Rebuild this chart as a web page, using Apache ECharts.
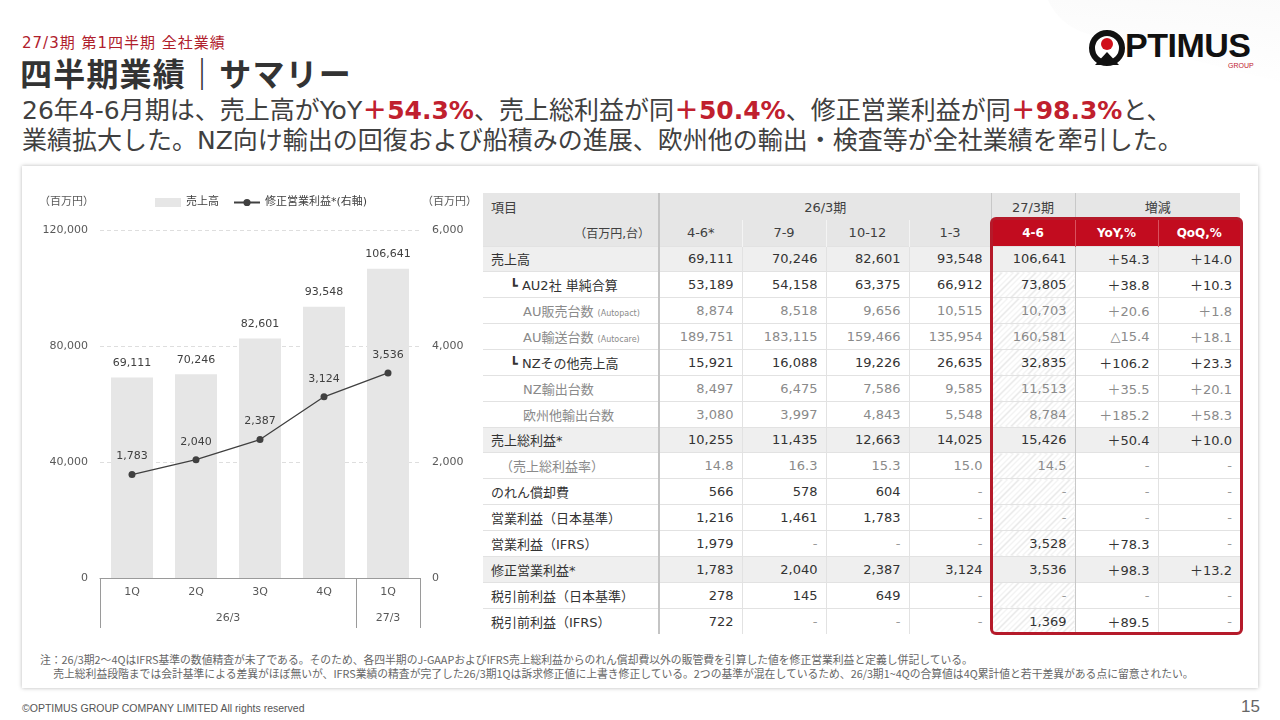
<!DOCTYPE html>
<html>
<head>
<meta charset="utf-8">
<script src="https://cdn.jsdelivr.net/npm/echarts@6.0.0/dist/echarts.min.js"></script>
<style>
body { margin:0; }
#page { position:relative; width:1280px; height:720px; overflow:hidden; background:#fff;
  font-family:"DejaVu Sans","Noto Sans CJK JP",sans-serif; color:#404040; }
.abs { position:absolute; }
#deco { left:1040px; top:-60px; width:320px; height:120px; background:linear-gradient(170deg,#f6f6f6,#fbfbfb 55%,rgba(255,255,255,0));
  transform:rotate(14deg); border-radius:0 0 0 60px; }
#kicker { left:22px; top:31px; font-size:15px; letter-spacing:1px; color:#b0202c; }
#title { left:20px; top:49px; font-size:32px; font-weight:bold; color:#333; font-family:"Noto Sans CJK JP"; letter-spacing:1.2px; }
#lead { left:22px; top:96px; font-size:25px; line-height:30px; color:#404040; white-space:nowrap; }
#lead b { color:#c0202e; }
#logo { left:1089px; top:29px; width:172px; height:44px; }
#logo .ring { position:absolute; left:0; top:1px; width:24px; height:24px; border:6px solid #111; border-radius:50%; }
#logo .dot { position:absolute; left:12px; top:9px; width:12px; height:12px; background:#d0101c; border-radius:50%; }
#logo .roof { position:absolute; left:6px; top:23px; width:0; height:0; border-left:12px solid transparent; border-right:12px solid transparent; border-bottom:13px solid #111; }
#logo .word { position:absolute; left:36px; top:-3px; font-family:"Liberation Sans",Arial,sans-serif; font-weight:bold; font-size:34px; color:#111; letter-spacing:-0.5px; }
#logo .grp { position:absolute; left:139px; top:33px; font-family:"Liberation Sans Narrow","Liberation Sans"; font-size:7px; color:#c0202e; }
#card { left:22px; top:166px; width:1236px; height:522px; background:#fff; box-shadow:0 0 4px rgba(0,0,0,0.28); }
#main { left:0; top:0; width:480px; height:650px; }
#tbl { left:483px; top:193px; border-collapse:collapse; table-layout:fixed; font-size:13px; }
#tbl td { padding:0 8px; white-space:nowrap; overflow:hidden; box-sizing:border-box; }
#tbl tr.h td { height:26.5px; background:#e6e6e6; text-align:center; color:#404040; }
#tbl tr.d td { height:25.87px; text-align:right; border-top:1px solid #e2e2e2; color:#333; }
#tbl tr.d td.lab { text-align:left; }
#tbl tr.d.shade td { background:#efefef; }
#tbl td.vsep { border-left:2px solid #c4c4c4; }
#tbl td.lsep { border-left:1px solid #e2e2e2; }
#tbl td.msep { border-left:1px solid #c8c8c8; }
#tbl tr.h2 td.lsep { border-left:1px solid #f4f4f4; }
#tbl tr.h2 td.red { background:#c20c1f; color:#fff; font-weight:bold; font-size:12px; }
#tbl tr.h2 td.red.lsep, #tbl tr.h2 td.red.msep { border-left:1px solid #d9515e; }
#tbl tr.d:first-of-type td { border-top:1px solid #c4c4c4; }
#tbl tr.d td.hatch { background:repeating-linear-gradient(135deg,#fff 0 3px,#e6e6e6 3px 4px); }
#tbl tr.d.shade td.hatch { background:#efefef; }
#tbl .dim { color:#8a8a8a !important; }
#tbl .dash { color:#9a9a9a !important; }
#tbl .note { font-size:8px; color:#8a8a8a; }
#redbox { left:990px; top:217px; width:253px; height:418px; border:3px solid #b51a2a; border-radius:6px; box-sizing:border-box; pointer-events:none; }
#foot { left:40px; top:653px; font-size:10.8px; line-height:13.5px; color:#666; font-family:"Noto Sans CJK JP"; }
#copy { left:22px; top:702px; font-size:10.5px; color:#555; font-family:"Liberation Sans",Arial,sans-serif; }
#pnum { left:1241px; top:697px; font-size:17px; color:#666; font-family:"Liberation Sans",Arial,sans-serif; }
</style>
</head>
<body>
<div id="page">
  <div id="deco" class="abs"></div>
  <div id="kicker" class="abs">27/3期 第1四半期 全社業績</div>
  <div id="title" class="abs">四半期業績｜サマリー</div>
  <div id="lead" class="abs">26年4-6月期は、売上高がYoY<b>＋54.3%</b>、売上総利益が同<b>＋50.4%</b>、修正営業利益が同<b>＋98.3%</b>と、<br>業績拡大した。NZ向け輸出の回復および船積みの進展、欧州他の輸出・検査等が全社業績を牽引した。</div>
  <div id="logo" class="abs"><div class="ring"></div><div class="dot"></div><div class="roof"></div><div class="word">PTIMUS</div><div class="grp">GROUP</div></div>
  <div id="card" class="abs"></div>
  <div id="main" class="abs"></div>
  <table id="tbl" class="abs"></table>
  <div id="redbox" class="abs"></div>
  <div id="foot" class="abs">注：26/3期2～4QはIFRS基準の数値精査が未了である。そのため、各四半期のJ-GAAPおよびIFRS売上総利益からのれん償却費以外の販管費を引算した値を修正営業利益と定義し併記している。<br>&emsp;&nbsp;売上総利益段階までは会計基準による差異がほぼ無いが、IFRS業績の精査が完了した26/3期1Qは訴求修正値に上書き修正している。2つの基準が混在しているため、26/3期1~4Qの合算値は4Q累計値と若干差異がある点に留意されたい。</div>
  <div id="copy" class="abs">©OPTIMUS GROUP COMPANY LIMITED All rights reserved</div>
  <div id="pnum" class="abs">15</div>
</div>
<script>
// chart data
var quarters = ['1Q', '2Q', '3Q', '4Q', '1Q'];
var fiscalGroups = ['26/3', '27/3'];
var groupCenters = [2, 4.5];
var groupBounds = [0, 4, 5];
var sales = [69111, 70246, 82601, 93548, 106641];
var adjOpProfit = [1783, 2040, 2387, 3124, 3536];

// table data (null = "-")
var rowLabels = ['売上高', '┗ AU2社 単純合算', 'AU販売台数', 'AU輸送台数', '┗ NZその他売上高', 'NZ輸出台数', '欧州他輸出台数',
  '売上総利益*', '（売上総利益率）', 'のれん償却費', '営業利益（日本基準）', '営業利益（IFRS）', '修正営業利益*',
  '税引前利益（日本基準）', '税引前利益（IFRS）'];
var rowNotes = ['', '', '(Autopact)', '(Autocare)', '', '', '', '', '', '', '', '', '', '', ''];
var rowIndent = [8, 27, 40, 40, 27, 40, 40, 8, 17, 8, 8, 8, 8, 8, 8];
var dimRows = [2, 3, 5, 6, 8];
var shadeRows = [0, 7, 12];
var rateRow = 8;
var colHeads = ['4-6*', '7-9', '10-12', '1-3', '4-6', 'YoY,%', 'QoQ,%'];
var fy26q1 = [69111, 53189, 8874, 189751, 15921, 8497, 3080, 10255, 14.8, 566, 1216, 1979, 1783, 278, 722];
var fy26q2 = [70246, 54158, 8518, 183115, 16088, 6475, 3997, 11435, 16.3, 578, 1461, null, 2040, 145, null];
var fy26q3 = [82601, 63375, 9656, 159466, 19226, 7586, 4843, 12663, 15.3, 604, 1783, null, 2387, 649, null];
var fy26q4 = [93548, 66912, 10515, 135954, 26635, 9585, 5548, 14025, 15.0, null, null, null, 3124, null, null];
var fy27q1 = [106641, 73805, 10703, 160581, 32835, 11513, 8784, 15426, 14.5, null, null, 3528, 3536, null, 1369];
var yoyPct = [54.3, 38.8, 20.6, -15.4, 106.2, 35.5, 185.2, 50.4, null, null, null, 78.3, 98.3, null, 89.5];
var qoqPct = [14.0, 10.3, 1.8, 18.1, 23.3, 20.1, 58.3, 10.0, null, null, null, null, 13.2, null, null];

function fmt(v) { return v.toLocaleString('en-US'); }

// build table
var colW = [176, 83, 84, 83, 82, 84, 83, 82];
var html = '<colgroup>' + colW.map(function (w) { return '<col style="width:' + w + 'px">'; }).join('') + '</colgroup>';
html += '<tr class="h"><td style="text-align:left">項目</td><td class="vsep" colspan="4">26/3期</td>' +
  '<td class="msep">27/3期</td><td class="msep" colspan="2">増減</td></tr>';
html += '<tr class="h h2"><td style="text-align:right;font-size:12px">（百万円,台）</td>';
for (var c = 0; c < colHeads.length; c++) {
  var cls = c == 0 ? 'vsep' : (c == 5 ? 'msep' : 'lsep');
  if (c >= 4) cls += ' red';
  html += '<td class="' + cls + '">' + colHeads[c] + '</td>';
}
html += '</tr>';
var cols = [fy26q1, fy26q2, fy26q3, fy26q4, fy27q1];
for (var r = 0; r < rowLabels.length; r++) {
  var dim = dimRows.indexOf(r) >= 0;
  html += '<tr class="d' + (shadeRows.indexOf(r) >= 0 ? ' shade' : '') + '">';
  html += '<td class="lab' + (dim ? ' dim' : '') + '" style="padding-left:' + rowIndent[r] + 'px">' + rowLabels[r] +
    (rowNotes[r] ? ' <span class="note">' + rowNotes[r] + '</span>' : '') + '</td>';
  for (var c = 0; c < 7; c++) {
    var v, txt;
    if (c < 5) {
      v = cols[c][r];
      txt = v == null ? '-' : (r == rateRow ? v.toFixed(1) : fmt(v));
    } else {
      v = c == 5 ? yoyPct[r] : qoqPct[r];
      txt = v == null ? '-' : (v < 0 ? '△' : '＋') + Math.abs(v).toFixed(1);
    }
    var cls = c == 0 ? 'vsep' : (c == 5 ? 'msep' : 'lsep');
    if (c == 4) cls += ' hatch';
    if (dim) cls += ' dim';
    if (v == null) cls += ' dash';
    html += '<td class="' + cls + '">' + txt + '</td>';
  }
  html += '</tr>';
}
document.getElementById('tbl').innerHTML = html;

var chartDom = document.getElementById('main');
var myChart = echarts.init(chartDom);
var option;
var txtColor = '#595959';
var font = '"DejaVu Sans","Noto Sans CJK JP",sans-serif';

option = {
  textStyle: { fontFamily: font },
  legend: {
    top: 192,
    left: 150,
    itemWidth: 26,
    itemHeight: 9,
    itemGap: 14,
    textStyle: { fontSize: 11, color: '#404040', fontFamily: font },
    data: [{ name: '売上高', icon: 'rect' }, { name: '修正営業利益*(右軸)' }]
  },
  grid: { left: 100, top: 230, width: 320, height: 348 },
  xAxis: [
    {
      type: 'category',
      data: quarters,
      axisLine: { lineStyle: { color: '#9a9a9a' } },
      axisTick: { show: false },
      axisLabel: { margin: 9, fontSize: 11, color: txtColor }
    },
    {
      type: 'value',
      min: 0,
      max: 5,
      position: 'bottom',
      axisLine: { show: false },
      splitLine: { show: false },
      axisTick: { show: true, customValues: groupBounds, length: 50, lineStyle: { color: '#9a9a9a' } },
      axisLabel: {
        customValues: groupCenters,
        margin: 35,
        fontSize: 11,
        color: txtColor,
        formatter: function (v) { return fiscalGroups[groupCenters.indexOf(v)] || ''; }
      }
    }
  ],
  yAxis: [
    {
      type: 'value',
      min: 0,
      max: 120000,
      interval: 40000,
      name: '（百万円）',
      nameLocation: 'end',
      nameGap: 22,
      nameTextStyle: { align: 'right', fontSize: 11, color: txtColor, padding: [0, 6, 0, 0] },
      axisLine: { show: false },
      axisTick: { show: false },
      axisLabel: { margin: 12, fontSize: 11, color: txtColor, formatter: function (v) { return fmt(v); } },
      splitLine: { lineStyle: { color: '#dedede', type: [4, 3] } }
    },
    {
      type: 'value',
      min: 0,
      max: 6000,
      interval: 2000,
      name: '（百万円）',
      nameLocation: 'end',
      nameGap: 22,
      nameTextStyle: { align: 'left', fontSize: 11, color: txtColor, padding: [0, 0, 0, 2] },
      axisLine: { show: false },
      axisTick: { show: false },
      axisLabel: { margin: 12, fontSize: 11, color: txtColor, formatter: function (v) { return fmt(v); } },
      splitLine: { show: false }
    }
  ],
  series: [
    {
      name: '売上高',
      type: 'bar',
      data: sales,
      barWidth: 42,
      itemStyle: { color: '#e6e6e6' },
      label: { show: true, position: 'top', distance: 9, fontSize: 11, color: '#404040', formatter: function (p) { return fmt(p.value); } }
    },
    {
      name: '修正営業利益*(右軸)',
      type: 'line',
      yAxisIndex: 1,
      data: adjOpProfit,
      symbol: 'circle',
      symbolSize: 7,
      lineStyle: { color: '#404040', width: 1.3 },
      itemStyle: { color: '#404040' },
      label: { show: true, position: 'top', distance: 9, fontSize: 11, color: '#404040', formatter: function (p) { return fmt(p.value); } }
    }
  ]
};

option && myChart.setOption(option);
</script>
</body>
</html>
